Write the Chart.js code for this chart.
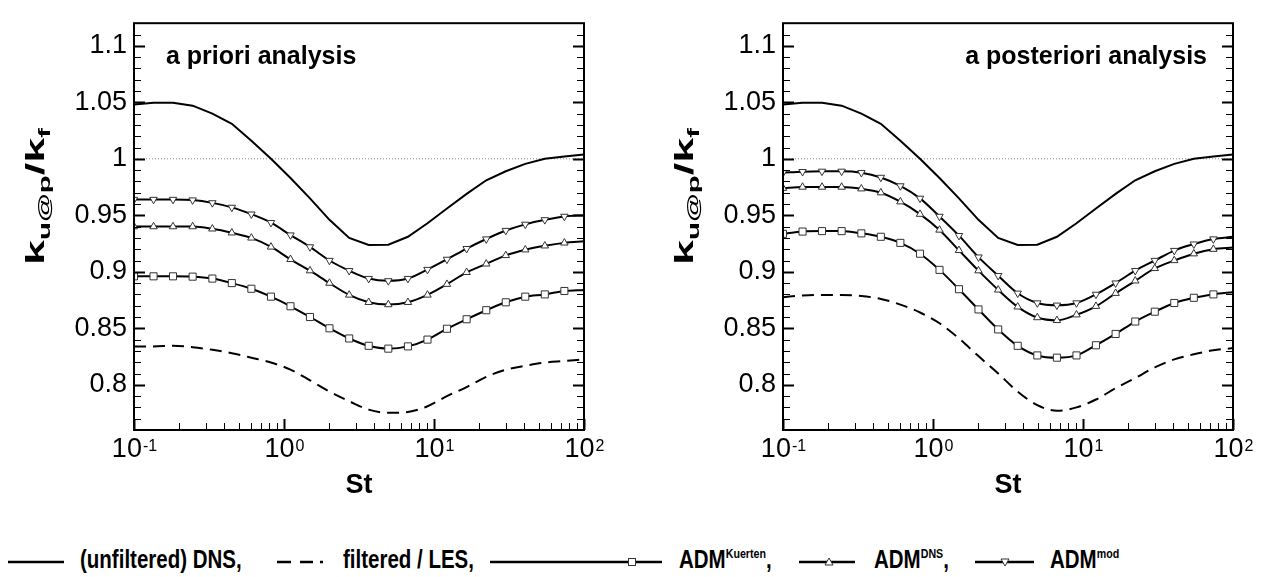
<!DOCTYPE html>
<html lang="en">
<head>
    <meta charset="UTF-8">
    <title>k_u@p / k_f versus St</title>
    <script src="https://cdn.jsdelivr.net/npm/chart.js"></script>
    <style>
        body {
            margin: 0;
            background: #fff;
            font-family: 'Liberation Sans', Arial, Helvetica, sans-serif;
        }
        #page {
            position: relative;
            width: 1267px;
            height: 577px;
            overflow: hidden;
        }
        .panel {
            position: absolute;
            top: 0;
            height: 500px;
        }
        #legend {
            position: absolute;
            left: 0;
            top: 500px;
        }
        #legend text {
            font-family: 'Liberation Sans', Arial, Helvetica, sans-serif;
            font-weight: bold;
            font-size: 25px;
        }
    </style>
</head>
<body>
<div id="page">
    <div class="panel" style="left:0;width:633px"><canvas id="prioriChart"></canvas></div>
    <div class="panel" style="left:633px;width:634px"><canvas id="posterioriChart"></canvas></div>

    <svg id="legend" width="1267" height="77">
        <g stroke="#000" stroke-width="2.5" fill="none">
            <line x1="8" y1="62" x2="64" y2="62"/>
            <line x1="277" y1="62" x2="291" y2="62"/>
            <line x1="300" y1="62" x2="313" y2="62"/>
            <line x1="320" y1="62" x2="323" y2="62"/>
            <line x1="490" y1="62" x2="662" y2="62"/>
            <line x1="799" y1="62" x2="855" y2="62"/>
            <line x1="975" y1="62" x2="1034" y2="62"/>
        </g>
        <g stroke="#333" stroke-width="1" fill="#fff">
            <rect x="628.5" y="58.5" width="7" height="7"/>
            <polygon points="829,58 833,65 825,65"/>
            <polygon points="1005,66 1009,59 1001,59"/>
        </g>
        <text transform="translate(80,68) scale(0.82,1)">(unfiltered) DNS,</text>
        <text transform="translate(343,68) scale(0.82,1)">filtered / LES,</text>
        <text transform="translate(679,68) scale(0.82,1)">ADM<tspan font-size="13" dy="-10">Kuerten</tspan><tspan dy="10">,</tspan></text>
        <text transform="translate(874,68) scale(0.82,1)">ADM<tspan font-size="13" dy="-10">DNS</tspan><tspan dy="10">,</tspan></text>
        <text transform="translate(1050,68) scale(0.82,1)">ADM<tspan font-size="13" dy="-10">mod</tspan></text>
    </svg>
</div>

<script>
    // Stokes numbers (same grid for every curve)
    const stokes = [0.1, 0.135, 0.182, 0.246, 0.333, 0.449, 0.606, 0.819, 1.105, 1.49,
        2.01, 2.72, 3.67, 4.96, 6.70, 9.05, 12.2, 16.5, 22.3, 30.1, 40.6, 54.8, 74.0, 100];

    // unfiltered DNS, identical in both panels
    const dnsRatio = [1.048, 1.0495, 1.0495, 1.047, 1.040, 1.031, 1.016, 1.000, 0.983, 0.965,
        0.946, 0.930, 0.9237, 0.924, 0.931, 0.943, 0.956, 0.969, 0.981, 0.989, 0.9955, 1.000, 1.002, 1.0037];

    // a priori analysis
    const prioriFiltered = [0.834, 0.834, 0.8345, 0.8333, 0.831, 0.828, 0.824, 0.8197, 0.8134, 0.804,
        0.794, 0.7855, 0.778, 0.7752, 0.776, 0.781, 0.790, 0.798, 0.807, 0.8134, 0.8168, 0.8197, 0.821, 0.8225];
    const prioriKuerten = [0.896, 0.896, 0.896, 0.8957, 0.894, 0.890, 0.885, 0.878, 0.8695, 0.860,
        0.850, 0.841, 0.8345, 0.832, 0.834, 0.840, 0.8496, 0.858, 0.866, 0.873, 0.878, 0.880, 0.883, 0.884];
    const prioriAdmDns = [0.940, 0.940, 0.940, 0.940, 0.938, 0.9345, 0.930, 0.922, 0.911, 0.901,
        0.890, 0.8795, 0.873, 0.871, 0.873, 0.8795, 0.889, 0.8995, 0.907, 0.9145, 0.9195, 0.923, 0.9256, 0.927];
    const prioriAdmMod = [0.964, 0.964, 0.964, 0.9635, 0.961, 0.957, 0.951, 0.9435, 0.9325, 0.922,
        0.910, 0.901, 0.894, 0.892, 0.894, 0.902, 0.911, 0.9205, 0.929, 0.9365, 0.942, 0.946, 0.949, 0.950];

    // a posteriori analysis
    const posterioriFiltered = [0.8775, 0.879, 0.8795, 0.8795, 0.8786, 0.876, 0.871, 0.864, 0.8545, 0.841,
        0.8254, 0.810, 0.794, 0.782, 0.777, 0.780, 0.787, 0.797, 0.806, 0.8154, 0.8225, 0.827, 0.8305, 0.8325];
    const posterioriKuerten = [0.9336, 0.9356, 0.936, 0.936, 0.934, 0.931, 0.9256, 0.916, 0.9017, 0.8846,
        0.8667, 0.849, 0.8345, 0.826, 0.824, 0.826, 0.835, 0.845, 0.856, 0.8647, 0.8724, 0.877, 0.880, 0.882];
    const posterioriAdmDns = [0.974, 0.975, 0.975, 0.975, 0.9735, 0.970, 0.962, 0.951, 0.937, 0.919,
        0.901, 0.884, 0.869, 0.8595, 0.857, 0.862, 0.8695, 0.881, 0.892, 0.903, 0.910, 0.916, 0.920, 0.9214];
    const posterioriAdmMod = [0.9877, 0.9886, 0.9889, 0.9889, 0.9877, 0.9835, 0.976, 0.965, 0.949, 0.932,
        0.913, 0.8966, 0.881, 0.8724, 0.8704, 0.8724, 0.880, 0.890, 0.901, 0.910, 0.9188, 0.9245, 0.929, 0.931];

    const refLevel = 1;
    const xDecades = [-1, 0, 1, 2];
    const yRange = [0.76, 1.12];

    const FONT = "'Liberation Sans', Arial, Helvetica, sans-serif";

    function pts(values) {
        return stokes.map((s, i) => ({ x: s, y: values[i] }));
    }

    // Tecplot style frame: inward ticks, 10^n labels, axis titles, panel note
    const frameAxes = {
        id: 'frameAxes',
        afterDatasetsDraw(chart, args, opts) {
            const { ctx, chartArea: a, scales: { x, y } } = chart;
            ctx.save();
            ctx.strokeStyle = '#000';

            // y ticks, left and right side
            for (let i = 0; i <= 36; i++) {
                const v = yRange[0] + i * 0.01;
                const major = i % 5 === 4;
                const py = Math.round(y.getPixelForValue(v)) + 0.5;
                const len = major ? 11 : 7;
                ctx.lineWidth = major ? 2 : 1;
                ctx.beginPath();
                ctx.moveTo(a.left, py); ctx.lineTo(a.left + len, py);
                ctx.moveTo(a.right, py); ctx.lineTo(a.right - len, py);
                ctx.stroke();
            }

            // x ticks along the bottom
            for (let e = -1; e <= 2; e++) {
                for (let m = 1; m <= 9; m++) {
                    if (e === 2 && m > 1) break;
                    const px = Math.round(x.getPixelForValue(m * Math.pow(10, e))) + 0.5;
                    const major = m === 1;
                    ctx.lineWidth = major ? 2 : 1;
                    ctx.beginPath();
                    ctx.moveTo(px, a.bottom);
                    ctx.lineTo(px, a.bottom - (major ? 11 : 7));
                    ctx.stroke();
                }
            }

            ctx.lineWidth = 2;
            ctx.strokeRect(a.left, a.top, a.right - a.left, a.bottom - a.top);

            // decade labels
            ctx.fillStyle = '#000';
            ctx.textBaseline = 'alphabetic';
            ctx.textAlign = 'left';
            xDecades.forEach(e => {
                const px = x.getPixelForValue(Math.pow(10, e));
                ctx.font = '27px ' + FONT;
                const w1 = ctx.measureText('10').width;
                ctx.font = '16px ' + FONT;
                const w2 = ctx.measureText(String(e)).width;
                const start = px - (w1 + w2) / 2;
                ctx.font = '27px ' + FONT;
                ctx.fillText('10', start, a.bottom + 27);
                ctx.font = '16px ' + FONT;
                ctx.fillText(String(e), start + w1 + 1, a.bottom + 21);
            });

            // x title
            ctx.font = 'bold 27px ' + FONT;
            ctx.textAlign = 'center';
            ctx.fillText('St', (a.left + a.right) / 2, a.bottom + 63);

            // y title  k_{u@p}/k_f, rotated
            const parts = [
                ['k', 26, 0], ['u@p', 17, 6], ['/k', 26, 0], ['f', 17, 6]
            ];
            let total = 0;
            parts.forEach(p => {
                ctx.font = 'bold ' + p[1] + 'px ' + FONT;
                total += ctx.measureText(p[0]).width;
            });
            ctx.save();
            ctx.translate(a.left - 90, 265);
            ctx.rotate(-Math.PI / 2);
            ctx.scale(opts.titleLength / total, 1);
            ctx.textAlign = 'left';
            let cx = 0;
            parts.forEach(p => {
                ctx.font = 'bold ' + p[1] + 'px ' + FONT;
                ctx.fillText(p[0], cx, p[2]);
                cx += ctx.measureText(p[0]).width;
            });
            ctx.restore();

            // panel note
            ctx.font = 'bold 25px ' + FONT;
            if (opts.noteSide === 'left') {
                ctx.textAlign = 'left';
                ctx.fillText(opts.note, a.left + 32, a.top + 41);
            } else {
                ctx.textAlign = 'right';
                ctx.fillText(opts.note, a.right - 26, a.top + 41);
            }
            ctx.restore();
        }
    };

    function makeChart(id, filtered, kuerten, admDns, admMod, note, noteSide, yWidth, padRight) {
        const markerRadius = r => ctx => ctx.dataIndex === stokes.length - 1 ? 0 : r;
        const lineStyle = {
            borderColor: '#000',
            borderWidth: 2,
            pointBackgroundColor: '#fff',
            pointBorderColor: '#333',
            pointBorderWidth: 1,
            cubicInterpolationMode: 'monotone'
        };
        return new Chart(document.getElementById(id), {
            type: 'line',
            data: {
                datasets: [
                    { label: 'ADM mod', data: pts(admMod), ...lineStyle,
                      pointStyle: 'triangle', rotation: 180, pointRadius: markerRadius(4.3) },
                    { label: 'ADM DNS', data: pts(admDns), ...lineStyle,
                      pointStyle: 'triangle', pointRadius: markerRadius(4.3) },
                    { label: 'ADM Kuerten', data: pts(kuerten), ...lineStyle,
                      pointStyle: 'rect', pointRadius: markerRadius(5) },
                    { label: 'filtered / LES', data: pts(filtered), ...lineStyle,
                      borderDash: [12, 7], pointRadius: 0 },
                    { label: '(unfiltered) DNS', data: pts(dnsRatio), borderColor: '#000',
                      borderWidth: 2, pointRadius: 0, tension: 0 },
                    { label: 'reference', data: [{ x: stokes[0], y: refLevel }, { x: stokes[stokes.length - 1], y: refLevel }],
                      borderColor: '#888', borderWidth: 1, borderDash: [1, 2], pointRadius: 0 }
                ]
            },
            options: {
                responsive: true,
                maintainAspectRatio: false,
                animation: false,
                layout: { padding: { top: 8, right: padRight, left: 0, bottom: 0 } },
                plugins: {
                    legend: { display: false },
                    tooltip: { enabled: false },
                    frameAxes: { note: note, noteSide: noteSide, titleLength: 137 }
                },
                scales: {
                    x: {
                        type: 'logarithmic',
                        min: 0.1,
                        max: 100,
                        grid: { display: false, drawTicks: false },
                        border: { display: false },
                        ticks: { display: false },
                        afterFit: s => { s.height = 70; }
                    },
                    y: {
                        min: yRange[0],
                        max: yRange[1],
                        grid: { display: false, drawTicks: false },
                        border: { display: false },
                        ticks: {
                            stepSize: 0.05,
                            includeBounds: false,
                            padding: 7,
                            color: '#000',
                            font: { family: FONT, size: 27 },
                            callback: v => String(+v.toFixed(2))
                        },
                        afterFit: s => { s.width = yWidth; }
                    }
                }
            },
            plugins: [frameAxes]
        });
    }

    makeChart('prioriChart', prioriFiltered, prioriKuerten, prioriAdmDns, prioriAdmMod,
        'a priori analysis', 'left', 134, 49);
    makeChart('posterioriChart', posterioriFiltered, posterioriKuerten, posterioriAdmDns, posterioriAdmMod,
        'a posteriori analysis', 'right', 150, 34);
</script>
</body>
</html>
